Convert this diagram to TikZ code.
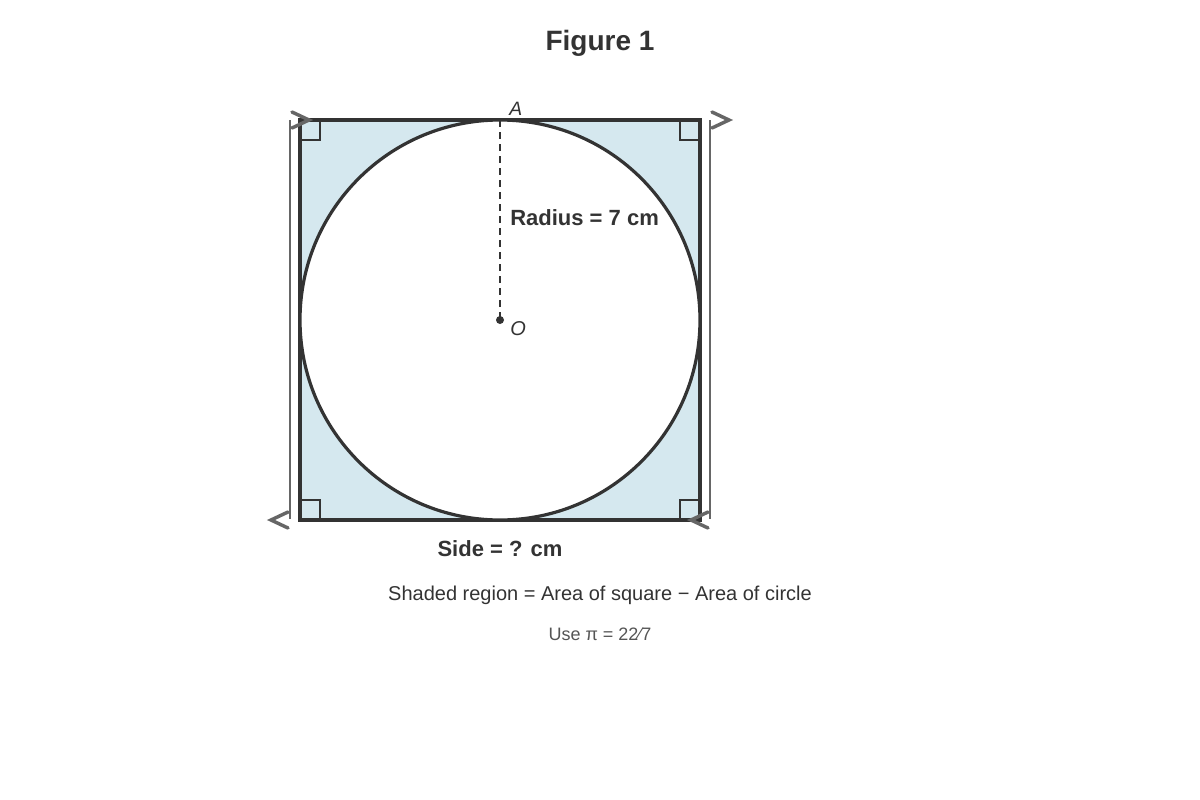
\documentclass[tikz,border=0pt]{standalone}
\usepackage{fontspec}
\setmainfont{Liberation Sans}
\begin{document}
\begin{tikzpicture}[x=0.75pt,y=-0.75pt,
  txt/.style={text=ink,inner sep=0pt},
  chev/.style={draw=guide,line width=2.6pt,line cap=round,line join=miter},
  guideline/.style={draw=guide,line width=1.1pt},
  rightmark/.style={draw=ink,line width=1.1pt},
]
\definecolor{ink}{HTML}{333333}
\definecolor{guide}{HTML}{666666}
\definecolor{shade}{HTML}{D5E8EF}
\definecolor{soft}{HTML}{555555}
\useasboundingbox (0,0) rectangle (1200,800);
% square and circle
\filldraw[fill=shade,draw=ink,line width=3pt] (300,120) rectangle (700,520);
\coordinate (O) at (500,320);
\coordinate (A) at (500,120);
\filldraw[fill=white,draw=ink,line width=2.4pt] (O) circle[radius=200];
% right-angle marks
\draw[rightmark] (300,140) -- (320,140) -- (320,120);
\draw[rightmark] (700,140) -- (680,140) -- (680,120);
\draw[rightmark] (300,500) -- (320,500) -- (320,520);
\draw[rightmark] (700,500) -- (680,500) -- (680,520);
% guide lines with chevrons
\draw[guideline] (290,120) -- (290,519);
\draw[guideline] (710,120) -- (710,519);
\draw[chev] (292,112) -- (309,120) -- (292,128);
\draw[chev] (712,112) -- (729,120) -- (712,128);
\draw[chev] (288,512) -- (271,520) -- (288,528);
\draw[chev] (708,512) -- (691,520) -- (708,528);
% radius
\draw[ink,line width=1.7pt,dash pattern=on 5.5pt off 3.5pt] (A) -- (O);
\fill[ink] (O) circle[radius=4];
% labels
\node[txt,font=\itshape\fontsize{14.5pt}{17pt}\selectfont,anchor=base west] (la) at (509,115) {A};
\node[txt,font=\itshape\fontsize{15pt}{18pt}\selectfont,anchor=base west] (lo) at (510,335) {O};
\node[txt,font=\bfseries\fontsize{16.5pt}{20pt}\selectfont,anchor=base west] (rad) at (510,225) {Radius = 7 cm};
\node[txt,font=\bfseries\fontsize{16.5pt}{20pt}\selectfont,anchor=base] (side) at (500,556) {Side = ? cm};
\node[txt,font=\bfseries\fontsize{21pt}{25pt}\selectfont,anchor=base] (title) at (600,50) {Figure 1};
\node[txt,font=\fontsize{15pt}{18pt}\selectfont,anchor=base] (eq) at (600,600) {Shaded region = Area of square − Area of circle};
\node[inner sep=0pt,text=soft,font=\fontsize{13.5pt}{16pt}\selectfont,anchor=base] (pi) at (600,640) {Use π = 22⁄7};
\end{tikzpicture}
\end{document}
